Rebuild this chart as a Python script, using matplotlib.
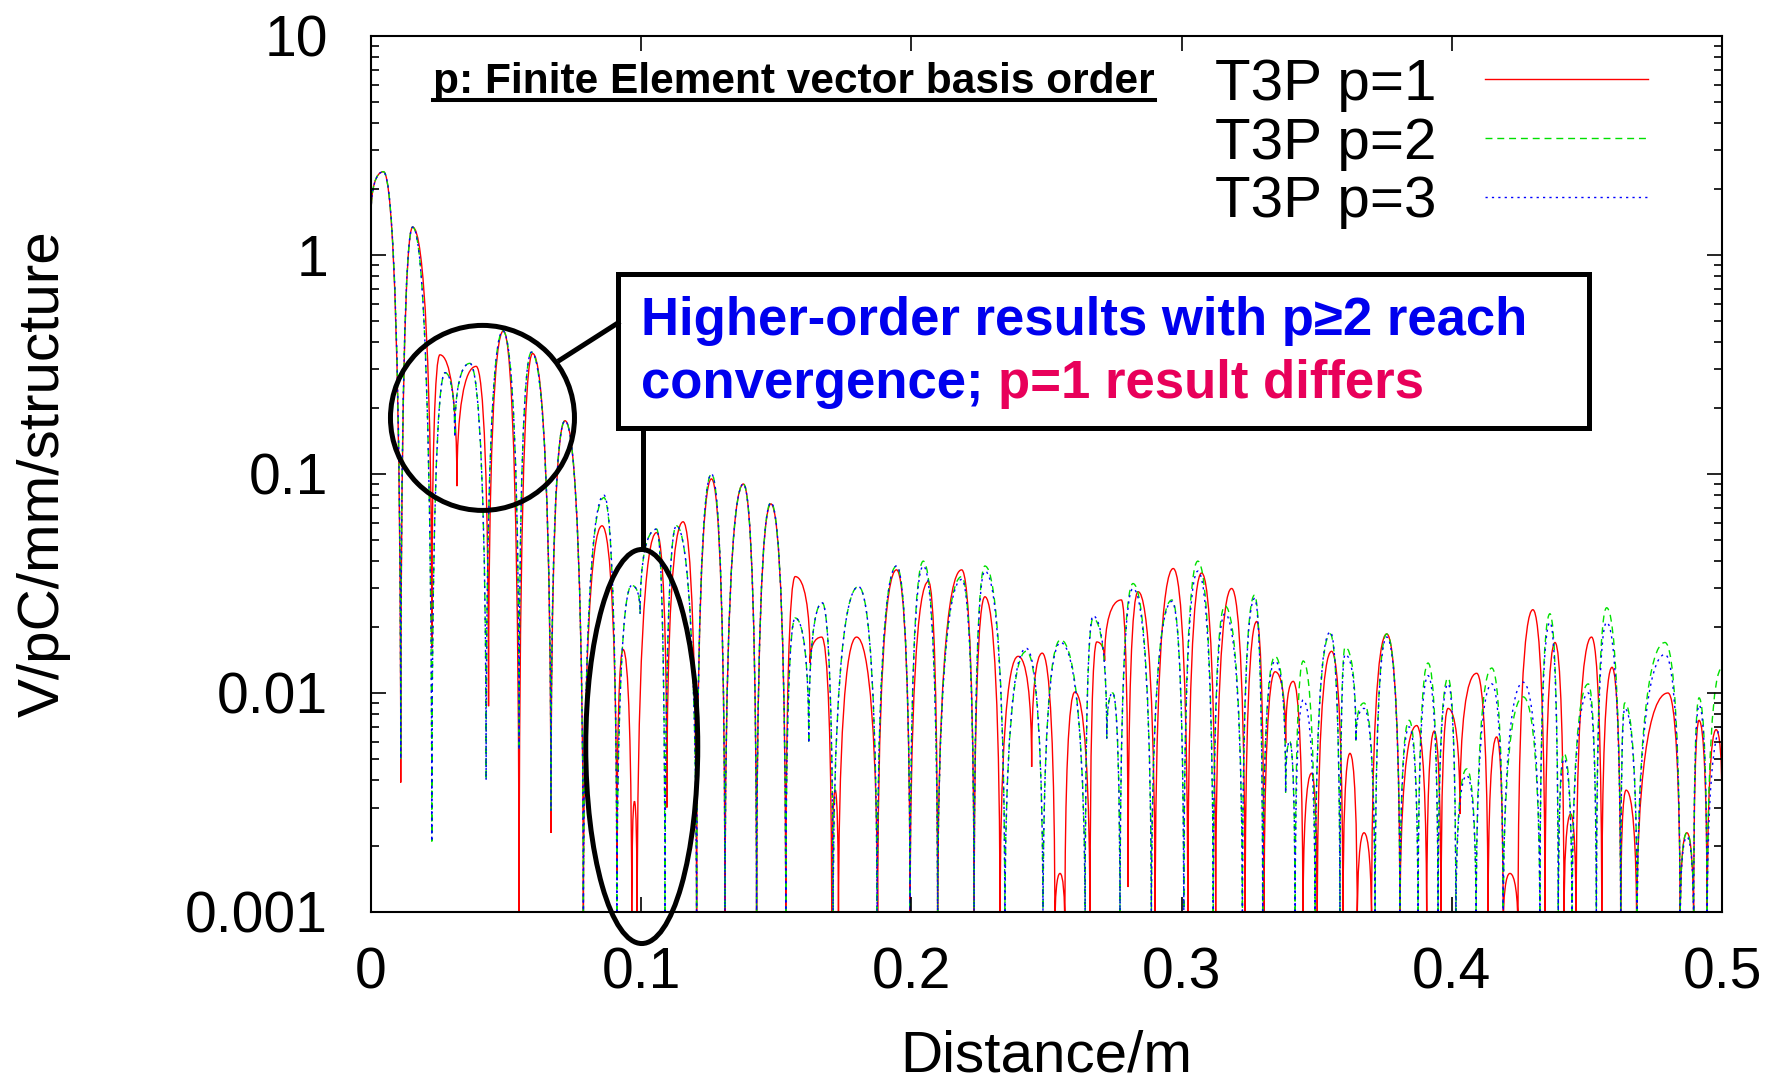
import numpy as np
import matplotlib
matplotlib.use('Agg')
import matplotlib.pyplot as plt
from matplotlib.path import Path
from matplotlib.patches import PathPatch, Ellipse, Rectangle
from matplotlib.lines import Line2D

plt.rcParams['font.family'] = ['Liberation Sans', 'DejaVu Sans']

# key points (lobe nulls / peaks), V/pC/mm/structure vs m
red_x = [0.0, 0.0046, 0.011, 0.0154, 0.0225, 0.0255, 0.0318, 0.0389, 0.0435, 0.049,
         0.0548, 0.0598, 0.0666, 0.0718, 0.0786, 0.0855, 0.091, 0.0933, 0.0965, 0.0975,
         0.0985, 0.1057, 0.1095, 0.1155, 0.1205, 0.126, 0.131, 0.1378, 0.1427, 0.148,
         0.1535, 0.157, 0.1625, 0.1668, 0.1705, 0.1718, 0.173, 0.1797, 0.1875, 0.1945,
         0.1995, 0.2063, 0.2097, 0.2186, 0.2232, 0.2272, 0.2328, 0.2395, 0.2445, 0.2484,
         0.2531, 0.255, 0.2568, 0.2605, 0.2661, 0.2686, 0.2715, 0.2777, 0.2802, 0.2839,
         0.2902, 0.2969, 0.3023, 0.3074, 0.3126, 0.3185, 0.3235, 0.3278, 0.3305, 0.3346,
         0.3385, 0.3413, 0.3449, 0.3481, 0.3502, 0.3555, 0.3597, 0.3623, 0.365, 0.3675,
         0.3703, 0.3759, 0.3808, 0.387, 0.3907, 0.3935, 0.396, 0.3986, 0.403, 0.4092,
         0.4134, 0.4166, 0.419, 0.4215, 0.4245, 0.430, 0.4345, 0.4382, 0.4415, 0.444,
         0.446, 0.4517, 0.4555, 0.4593, 0.4625, 0.4645, 0.4684, 0.48, 0.4845, 0.487,
         0.4895, 0.4915, 0.4945, 0.4978, 0.5]
red_y = [1.5, 2.4, 0.0039, 1.34, 0.016, 0.35, 0.088, 0.31, 0.0087, 0.45,
         0.0008, 0.355, 0.0023, 0.175, 0.0008, 0.058, 0.0014, 0.0158, 0.0008, 0.0032,
         0.0008, 0.054, 0.003, 0.0605, 0.0008, 0.095, 0.0008, 0.09, 0.0008, 0.073,
         0.0008, 0.034, 0.0137, 0.018, 0.0008, 0.0036, 0.0008, 0.018, 0.0008, 0.0365,
         0.0008, 0.0323, 0.0008, 0.0365, 0.0008, 0.0275, 0.0008, 0.0147, 0.0046, 0.0152,
         0.0008, 0.0015, 0.0008, 0.0101, 0.0008, 0.0171, 0.014, 0.0266, 0.0013, 0.029,
         0.0008, 0.037, 0.0008, 0.0353, 0.0008, 0.030, 0.0008, 0.0212, 0.0008, 0.0125,
         0.0059, 0.0113, 0.0008, 0.0043, 0.0008, 0.0155, 0.0008, 0.0053, 0.0008, 0.0023,
         0.0008, 0.0186, 0.0008, 0.0071, 0.0008, 0.0067, 0.0008, 0.0085, 0.0028, 0.0123,
         0.0008, 0.0063, 0.0008, 0.0015, 0.0008, 0.024, 0.0008, 0.017, 0.0008, 0.0028,
         0.0008, 0.018, 0.0008, 0.0131, 0.0008, 0.0036, 0.0008, 0.010, 0.0008, 0.0023,
         0.0008, 0.0075, 0.0008, 0.0068, 0.003]

green_x = [0.0, 0.0046, 0.011, 0.0154, 0.0225, 0.0274, 0.031, 0.0366, 0.0426, 0.0488,
           0.0548, 0.0594, 0.0666, 0.0718, 0.0786, 0.0862, 0.091, 0.0965, 0.0996, 0.1057,
           0.1088, 0.113, 0.1205, 0.126, 0.131, 0.1378, 0.1427, 0.148, 0.1535, 0.157,
           0.162, 0.167, 0.171, 0.1804, 0.1873, 0.1945, 0.1995, 0.2044, 0.2097, 0.2186,
           0.2232, 0.2272, 0.2346, 0.2425, 0.2487, 0.2552, 0.2643, 0.2672, 0.2723, 0.2745,
           0.2772, 0.282, 0.2888, 0.2964, 0.3008, 0.306, 0.3117, 0.316, 0.3225, 0.327,
           0.330, 0.3346, 0.3385, 0.340, 0.342, 0.345, 0.3494, 0.355, 0.3586, 0.3605,
           0.3645, 0.3675, 0.3716, 0.3759, 0.3808, 0.3842, 0.3875, 0.3912, 0.3949, 0.3986,
           0.4015, 0.4055, 0.409, 0.4148, 0.419, 0.4264, 0.4326, 0.4363, 0.4394, 0.4415,
           0.4445, 0.4505, 0.4535, 0.4573, 0.4625, 0.464, 0.4686, 0.4789, 0.4845, 0.487,
           0.4895, 0.4915, 0.4945, 0.5]
green_y = [1.5, 2.4, 0.005, 1.34, 0.0021, 0.29, 0.147, 0.32, 0.004, 0.45,
           0.0055, 0.36, 0.0029, 0.175, 0.0008, 0.078, 0.0008, 0.031, 0.023, 0.056,
           0.0008, 0.058, 0.0008, 0.10, 0.0008, 0.09, 0.0008, 0.074, 0.0008, 0.022,
           0.0059, 0.0258, 0.0008, 0.0306, 0.0008, 0.038, 0.0008, 0.040, 0.0008, 0.034,
           0.0008, 0.038, 0.0008, 0.0155, 0.0008, 0.0175, 0.0008, 0.0219, 0.0062, 0.010,
           0.0008, 0.0316, 0.0008, 0.0266, 0.0008, 0.040, 0.0008, 0.025, 0.0008, 0.028,
           0.0008, 0.0147, 0.0035, 0.006, 0.0008, 0.014, 0.0008, 0.0186, 0.0008, 0.0162,
           0.006, 0.009, 0.0008, 0.0186, 0.0008, 0.0075, 0.0008, 0.0137, 0.0008, 0.0117,
           0.0008, 0.0045, 0.0008, 0.013, 0.0008, 0.0096, 0.0008, 0.023, 0.0008, 0.0053,
           0.0008, 0.011, 0.0008, 0.0245, 0.0008, 0.009, 0.0008, 0.017, 0.0008, 0.0023,
           0.0008, 0.0095, 0.0008, 0.013]

blue_x = green_x
blue_y = [1.5, 2.4, 0.005, 1.34, 0.0021, 0.29, 0.147, 0.32, 0.004, 0.45,
          0.0055, 0.36, 0.0029, 0.175, 0.0008, 0.080, 0.0008, 0.031, 0.023, 0.056,
          0.0008, 0.058, 0.0008, 0.10, 0.0008, 0.09, 0.0008, 0.074, 0.0008, 0.022,
          0.0059, 0.0258, 0.0008, 0.0306, 0.0008, 0.038, 0.0008, 0.038, 0.0008, 0.033,
          0.0008, 0.036, 0.0008, 0.0160, 0.0008, 0.0170, 0.0008, 0.0225, 0.0062, 0.010,
          0.0008, 0.030, 0.0008, 0.0262, 0.0008, 0.036, 0.0008, 0.023, 0.0008, 0.027,
          0.0008, 0.0140, 0.0035, 0.006, 0.0008, 0.0093, 0.0008, 0.0190, 0.0008, 0.0150,
          0.006, 0.0085, 0.0008, 0.0180, 0.0008, 0.0070, 0.0008, 0.0120, 0.0008, 0.0110,
          0.0008, 0.0042, 0.0008, 0.011, 0.0008, 0.0112, 0.0008, 0.021, 0.0008, 0.0050,
          0.0008, 0.010, 0.0008, 0.021, 0.0008, 0.0085, 0.0008, 0.015, 0.0008, 0.0022,
          0.0008, 0.0088, 0.0008, 0.007]

labels = ['T3P p=1', 'T3P p=2', 'T3P p=3']
colors = ['#ff0000', '#00e000', '#0000ff']
styles = ['-', (0, (5, 3.5)), (0, (1.6, 3))]

x_ticks = [0, 0.1, 0.2, 0.3, 0.4, 0.5]
x_ticklabels = ['0', '0.1', '0.2', '0.3', '0.4', '0.5']
y_ticks = [0.001, 0.01, 0.1, 1, 10]
y_ticklabels = ['0.001', '0.01', '0.1', '1', '10']


def arch_path(xs, ys):
    # join the key points with arches: vertical at the low end, flat at the high end
    verts = [(xs[0], ys[0])]
    codes = [Path.MOVETO]
    for xa, ya, xb, yb in zip(xs[:-1], ys[:-1], xs[1:], ys[1:]):
        la, lb = np.log10(ya), np.log10(yb)
        if lb > la:
            c1 = (xa, la + 0.65 * (lb - la))
            c2 = (xb - 0.6 * (xb - xa), lb)
        else:
            c1 = (xa + 0.6 * (xb - xa), la)
            c2 = (xb, lb + 0.65 * (la - lb))
        verts += [(c1[0], 10 ** c1[1]), (c2[0], 10 ** c2[1]), (xb, yb)]
        codes += [Path.CURVE4] * 3
    return Path(verts, codes)


fig = plt.figure(figsize=(17.88, 10.83), dpi=100)
ax = fig.add_axes([0.2075, 0.1579, 0.7556, 0.8089])
ax.set_yscale('log')

handles = []
for xs, ys, lab, col, ls in zip([red_x, green_x, blue_x], [red_y, green_y, blue_y],
                                labels, colors, styles):
    ax.add_patch(PathPatch(arch_path(xs, ys), fill=False, edgecolor=col,
                           lw=1.0, linestyle=ls))
    handles.append(Line2D([], [], color=col, lw=1.0, linestyle=ls, label=lab))

ax.set_xlim(0, 0.5)
ax.set_ylim(0.001, 10)
ax.set_xticks(x_ticks)
ax.set_xticklabels(x_ticklabels)
ax.set_yticks(y_ticks)
ax.set_yticklabels(y_ticklabels)
ax.yaxis.set_minor_locator(matplotlib.ticker.LogLocator(base=10, subs=np.arange(2, 10)))
ax.yaxis.set_minor_formatter(matplotlib.ticker.NullFormatter())
ax.tick_params(which='both', direction='in', top=True, right=True, width=1.2)
ax.tick_params(which='major', length=11, labelsize=41)
ax.tick_params(which='minor', length=6)
ax.tick_params(axis='x', pad=25)
ax.tick_params(axis='y', pad=31)
for sp in ax.spines.values():
    sp.set_linewidth(1.5)

ax.set_xlabel('Distance/m', fontsize=42)
ax.xaxis.set_label_coords(0.5, -0.134)
ax.set_ylabel('V/pC/mm/structure', fontsize=42)
ax.yaxis.set_label_coords(-0.222, 0.5)

ax.legend(handles=handles, loc='upper right', bbox_to_anchor=(0.9452, 0.975),
          frameon=False, markerfirst=False, fontsize=42, handlelength=2.8,
          handletextpad=0.82, labelspacing=0.08, borderpad=0, borderaxespad=0)

# heading inside the plot, underlined
head = ax.text(0.0459, 0.935, 'p: Finite Element vector basis order',
               transform=ax.transAxes, fontsize=30.5, fontweight='bold', va='baseline')

# annotation box, circle and ellipse
ax.add_patch(Rectangle((0.1828, 0.5525), 0.7188, 0.1755, transform=ax.transAxes,
                       facecolor='white', edgecolor='black', lw=3.6, zorder=5,
                       clip_on=False))
t1 = ax.text(0.1999, 0.6587, 'Higher-order results with p\u22652 reach',
             transform=ax.transAxes, fontsize=38, fontweight='bold',
             color='#0000ee', va='baseline', zorder=6)
t2 = ax.text(0.1999, 0.5868, 'convergence; ', transform=ax.transAxes, fontsize=38,
             fontweight='bold', color='#0000ee', va='baseline', zorder=6)
ax.annotate('p=1 result differs', xy=(1, 0), xycoords=t2, va='bottom', ha='left',
            fontsize=38, fontweight='bold', color='#e8005a', zorder=6)

ax.add_patch(Ellipse((0.0825, 0.564), 0.1362, 0.2112, transform=ax.transAxes,
                     fill=False, edgecolor='black', lw=3.6, zorder=5, clip_on=False))
ax.add_patch(Ellipse((0.2004, 0.1889), 0.0829, 0.4498, transform=ax.transAxes,
                     fill=False, edgecolor='black', lw=3.6, zorder=5, clip_on=False))
ax.add_line(Line2D([0.1399, 0.1828], [0.6301, 0.6724], transform=ax.transAxes,
                   color='black', lw=3.6, zorder=5, clip_on=False))
ax.add_line(Line2D([0.2016, 0.2016], [0.5525, 0.4144], transform=ax.transAxes,
                   color='black', lw=3.6, zorder=5, clip_on=False))

fig.canvas.draw()
bb = head.get_window_extent()
base = ax.transAxes.transform((0.0459, 0.935))[1]
inv = fig.transFigure.inverted()
(ux0, uy), (ux1, _) = inv.transform([(bb.x0, base - 7), (bb.x1, base - 7)])
fig.add_artist(Line2D([ux0, ux1], [uy, uy], transform=fig.transFigure,
                      color='black', lw=2.9))

fig.savefig('out.png', dpi=100)
